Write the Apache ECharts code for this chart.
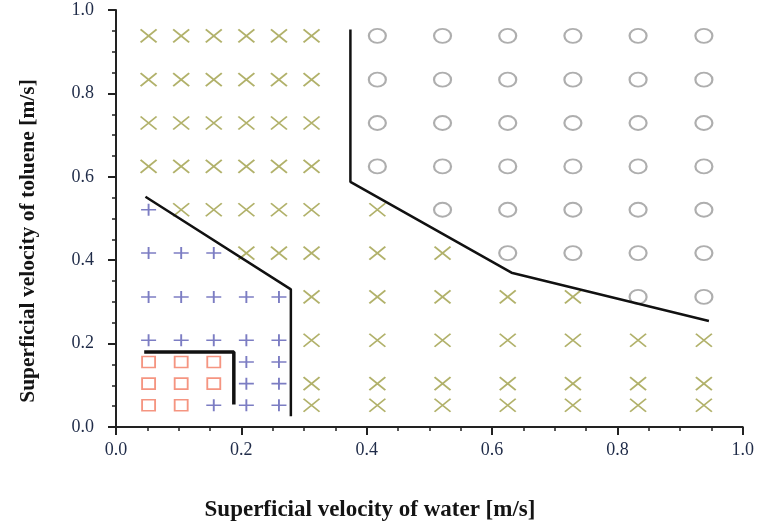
<!DOCTYPE html>
<html>
<head>
<meta charset="utf-8">
<script src="https://cdn.jsdelivr.net/npm/echarts@6/dist/echarts.min.js"></script>
<style>
  html, body { margin: 0; padding: 0; background: #fff; }
  #chart { width: 757px; height: 526px; }
</style>
</head>
<body>
<div id="chart"></div>
<script>
// flow regime observations: [water velocity, toluene velocity] (m/s)
const squarePoints = [
    [0.052, 0.052], [0.104, 0.052],
    [0.052, 0.104], [0.104, 0.104], [0.156, 0.104],
    [0.052, 0.156], [0.104, 0.156], [0.156, 0.156]
];
const plusPoints = [
    [0.156, 0.052], [0.208, 0.052], [0.26, 0.052],
    [0.208, 0.104], [0.26, 0.104],
    [0.208, 0.156], [0.26, 0.156],
    [0.052, 0.208], [0.104, 0.208], [0.156, 0.208], [0.208, 0.208], [0.26, 0.208],
    [0.052, 0.312], [0.104, 0.312], [0.156, 0.312], [0.208, 0.312], [0.26, 0.312],
    [0.052, 0.417], [0.104, 0.417], [0.156, 0.417],
    [0.052, 0.521]
];
const crossPoints = [
    [0.312, 0.052], [0.417, 0.052], [0.521, 0.052], [0.625, 0.052], [0.729, 0.052], [0.833, 0.052], [0.938, 0.052],
    [0.312, 0.104], [0.417, 0.104], [0.521, 0.104], [0.625, 0.104], [0.729, 0.104], [0.833, 0.104], [0.938, 0.104],
    [0.312, 0.208], [0.417, 0.208], [0.521, 0.208], [0.625, 0.208], [0.729, 0.208], [0.833, 0.208], [0.938, 0.208],
    [0.312, 0.312], [0.417, 0.312], [0.521, 0.312], [0.625, 0.312], [0.729, 0.312],
    [0.208, 0.417], [0.26, 0.417], [0.312, 0.417], [0.417, 0.417], [0.521, 0.417],
    [0.104, 0.521], [0.156, 0.521], [0.208, 0.521], [0.26, 0.521], [0.312, 0.521], [0.417, 0.521],
    [0.052, 0.625], [0.104, 0.625], [0.156, 0.625], [0.208, 0.625], [0.26, 0.625], [0.312, 0.625],
    [0.052, 0.729], [0.104, 0.729], [0.156, 0.729], [0.208, 0.729], [0.26, 0.729], [0.312, 0.729],
    [0.052, 0.833], [0.104, 0.833], [0.156, 0.833], [0.208, 0.833], [0.26, 0.833], [0.312, 0.833],
    [0.052, 0.938], [0.104, 0.938], [0.156, 0.938], [0.208, 0.938], [0.26, 0.938], [0.312, 0.938]
];
const circlePoints = [
    [0.833, 0.312], [0.938, 0.312],
    [0.625, 0.417], [0.729, 0.417], [0.833, 0.417], [0.938, 0.417],
    [0.521, 0.521], [0.625, 0.521], [0.729, 0.521], [0.833, 0.521], [0.938, 0.521],
    [0.417, 0.625], [0.521, 0.625], [0.625, 0.625], [0.729, 0.625], [0.833, 0.625], [0.938, 0.625],
    [0.417, 0.729], [0.521, 0.729], [0.625, 0.729], [0.729, 0.729], [0.833, 0.729], [0.938, 0.729],
    [0.417, 0.833], [0.521, 0.833], [0.625, 0.833], [0.729, 0.833], [0.833, 0.833], [0.938, 0.833],
    [0.417, 0.938], [0.521, 0.938], [0.625, 0.938], [0.729, 0.938], [0.833, 0.938], [0.938, 0.938]
];

// transition boundaries
const boundaryA = [[0.045, 0.18], [0.188, 0.18], [0.188, 0.054]];
const boundaryB = [[0.047, 0.552], [0.279, 0.33], [0.279, 0.026]];
const boundaryC = [[0.374, 0.953], [0.374, 0.588], [0.631, 0.37], [0.946, 0.254]];

const xTitle = 'Superficial velocity of water [m/s]';
const yTitle = 'Superficial velocity of toluene [m/s]';

const serif = '"Liberation Serif", "Times New Roman", serif';
const tickColor = '#1f2b48';

const chart = echarts.init(document.getElementById('chart'));

function axisCommon() {
    return {
        type: 'value',
        min: 0,
        max: 1,
        interval: 0.2,
        minorTick: { show: true, splitNumber: 4, length: 4, lineStyle: { color: '#222', width: 1.5 } },
        axisTick: { show: true, length: 8, lineStyle: { color: '#222', width: 2 } },
        axisLine: { show: true, onZero: false, lineStyle: { color: '#222', width: 2 } },
        splitLine: { show: false },
        minorSplitLine: { show: false },
        axisLabel: {
            fontFamily: 'Liberation Serif',
            fontSize: 18,
            color: tickColor,
            formatter: v => v.toFixed(1)
        }
    };
}

const xAxis = axisCommon();
xAxis.axisLabel.margin = 14;
const yAxis = axisCommon();
yAxis.axisLabel.margin = 22;

function markerSeries(name, data, symbol, size, color, width) {
    return {
        name: name,
        type: 'scatter',
        data: data,
        symbol: symbol,
        symbolSize: size,
        itemStyle: { color: 'none', borderColor: color, borderWidth: width },
        emphasis: { disabled: true },
        silent: true
    };
}

function lineSeries(data, width) {
    return {
        type: 'line',
        data: data,
        symbol: 'none',
        lineStyle: { color: '#111', width: width },
        silent: true,
        z: 3
    };
}

chart.setOption({
    animation: false,
    backgroundColor: '#fff',
    grid: { left: 116, right: 9, top: 10, bottom: 99 },
    xAxis: xAxis,
    yAxis: yAxis,
    graphic: [
        {
            type: 'text',
            x: 370,
            y: 510,
            style: {
                text: xTitle,
                font: 'bold 23px ' + serif,
                fill: '#141414',
                align: 'center',
                verticalAlign: 'middle',
                textAlign: 'center',
                textVerticalAlign: 'middle'
            }
        },
        {
            type: 'text',
            x: 28,
            y: 241,
            rotation: Math.PI / 2,
            style: {
                text: yTitle,
                font: 'bold 21.5px ' + serif,
                fill: '#141414',
                align: 'center',
                verticalAlign: 'middle',
                textAlign: 'center',
                textVerticalAlign: 'middle'
            }
        }
    ],
    series: [
        markerSeries('squares', squarePoints, 'rect', [13, 11], '#f27a62', 1.7),
        markerSeries('plus', plusPoints, 'path://M5,0L5,10M0,5L10,5', [15, 12], '#5b5db4', 1.7),
        markerSeries('cross', crossPoints, 'path://M0,0L10,10M10,0L0,10', [16, 13], '#9d9d45', 1.7),
        markerSeries('circle', circlePoints, 'circle', [17, 14], '#9a9a9a', 2),
        lineSeries(boundaryA, 3.5),
        lineSeries(boundaryB, 2.5),
        lineSeries(boundaryC, 2.5)
    ]
});
</script>
</body>
</html>
